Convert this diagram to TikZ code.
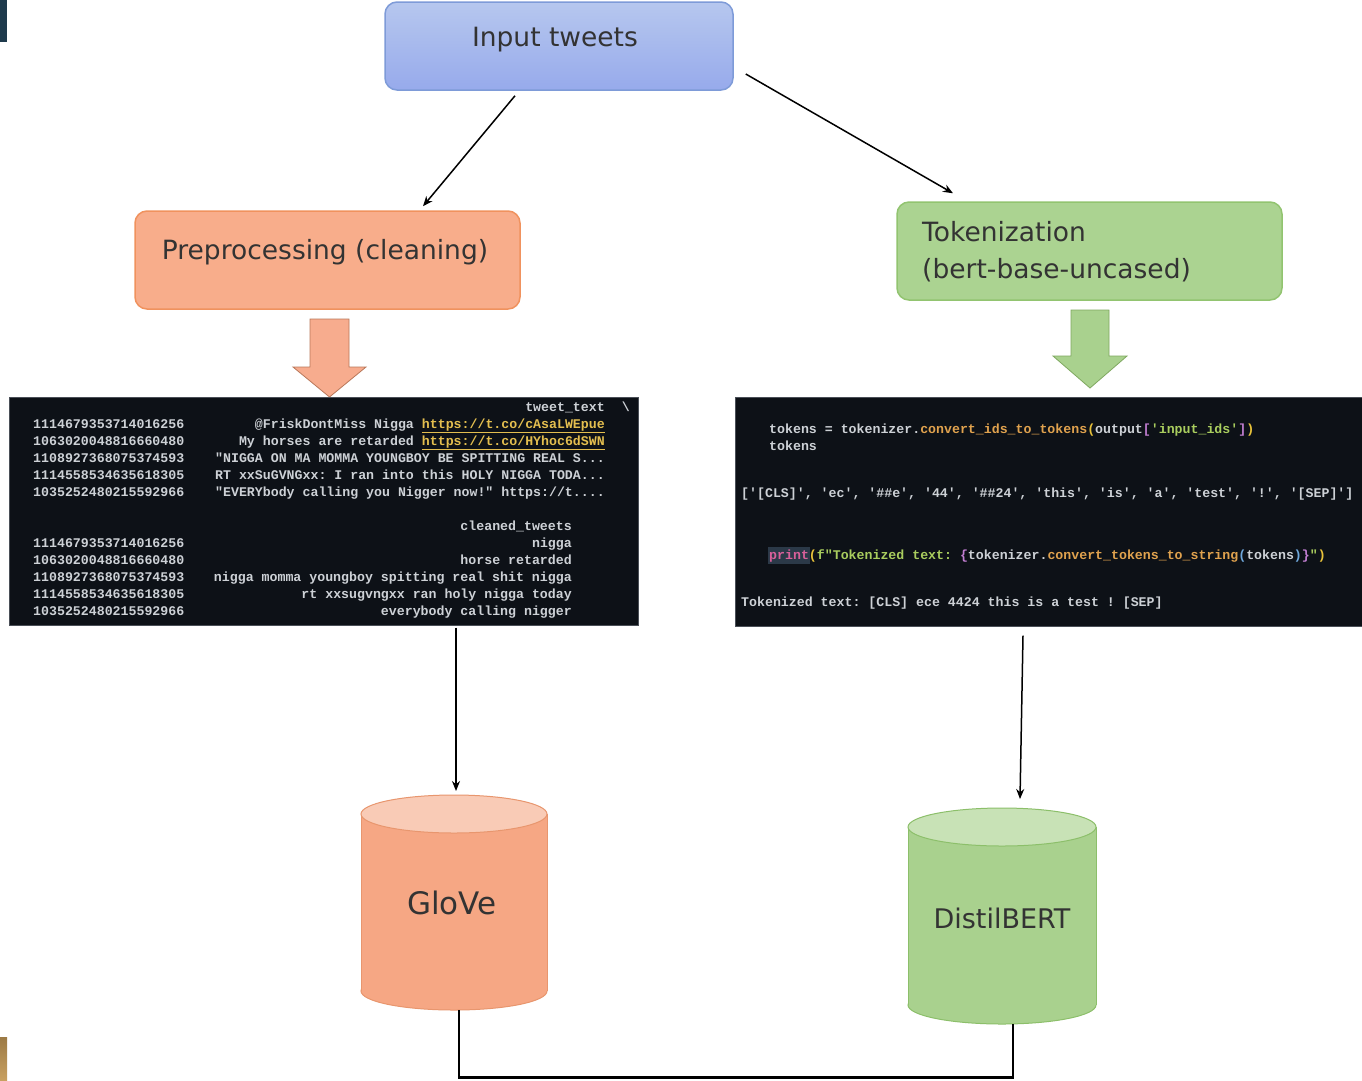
\documentclass[tikz,border=0pt]{standalone}
\usepackage{fontspec}
\setmainfont{DejaVu Sans}
\setmonofont{Liberation Mono}
\usetikzlibrary{arrows.meta,calc}
\definecolor{inputfill}{HTML}{A4B9EA}
\definecolor{inputdraw}{HTML}{7E9BD8}
\definecolor{prefill}{HTML}{F8AD8B}
\definecolor{predraw}{HTML}{F0925E}
\definecolor{tokfill}{HTML}{ABD391}
\definecolor{tokdraw}{HTML}{92C470}
\definecolor{panelbg}{HTML}{0D1117}
\definecolor{paneldraw}{HTML}{4A4F57}
\definecolor{txtc}{HTML}{333333}
\definecolor{codew}{HTML}{CDD1D6}
\definecolor{urlc}{HTML}{E3BE4F}
\definecolor{cor}{HTML}{E0A24E}
\definecolor{cyl}{HTML}{E8C23A}
\definecolor{cpu}{HTML}{C27ED2}
\definecolor{cgr}{HTML}{A9CD5E}
\definecolor{cpk}{HTML}{D8609A}
\definecolor{cbl}{HTML}{6FA8DC}
\definecolor{hlbox}{HTML}{2B3948}
\definecolor{orbody}{HTML}{F6A784}
\definecolor{ortop}{HTML}{F9CBB6}
\definecolor{ordraw}{HTML}{E8966E}
\definecolor{grbody}{HTML}{A9D18E}
\definecolor{grtop}{HTML}{C8E2B6}
\definecolor{grdraw}{HTML}{8CBF6A}
\definecolor{orarrfill}{HTML}{F7AC8E}
\definecolor{orarrdraw}{HTML}{B9785A}
\definecolor{grarrfill}{HTML}{A9D18E}
\definecolor{grarrdraw}{HTML}{7FA860}
\newcommand{\urlhl}[1]{\textcolor{urlc}{\underline{#1}}}
\begin{document}
\begin{tikzpicture}[x=1pt,y=-1pt,
  box/.style={rounded corners=12pt, line width=1.5pt, inner sep=0pt},
  lbl/.style={text=txtc, inner sep=0pt},
  code/.style={text=codew, inner sep=0pt, font=\ttfamily\bfseries\fontsize{13.25}{15}\selectfont},
  arr/.style={line width=1.5pt, -{Stealth[length=10pt,width=8pt]}},
  panel/.style={fill=panelbg, draw=paneldraw, line width=1pt}
]
\useasboundingbox (0,0) rectangle (1362,1080);
\fill[white] (0,0) rectangle (1362,1080);
% corner bars
\fill[fill={rgb,255:red,30;green,58;blue,76}] (0,0) rectangle (7,42);
\shade[top color={rgb,255:red,156;green,122;blue,69}, bottom color={rgb,255:red,200;green,160;blue,96}] (0,1037) rectangle (7,1080);

% boxes
\node[box, top color=inputfill!80!white, bottom color=inputfill!92!blue, draw=inputdraw, minimum width=348pt, minimum height=88pt] (input) at (559,46) {};
\node[lbl, font=\fontsize{26.5}{30}\selectfont] (inputtxt) at (555,40) {Input tweets};
\node[box, fill=prefill, draw=predraw, minimum width=385pt, minimum height=98pt] (pre) at (327.5,260) {};
\node[lbl, font=\fontsize{26.5}{30}\selectfont] (pretxt) at (325,252) {Preprocessing (cleaning)};
\node[box, fill=tokfill, draw=tokdraw, minimum width=385pt, minimum height=98pt] (tok) at (1089.5,251) {};
\node[lbl, font=\fontsize{26.5}{37}\selectfont, align=left, anchor=west] (toktxt) at (922,252) {Tokenization\\(bert-base-uncased)};

% connectors from input
\draw[arr] ($(input.south)+(-44,5)$) -- ($(pre.north)+(95.5,-4)$);
\draw[arr] ($(input.east)+(12,28)$) -- ($(tok.north)+(-136.5,-8)$);

% block arrows
\filldraw[fill=orarrfill, draw=orarrdraw, line width=0.8pt] (310,319) -- (349,319) -- (349,367) -- (366,367) -- (329.5,397) -- (293,367) -- (310,367) -- cycle;
\filldraw[fill=grarrfill, draw=grarrdraw, line width=0.8pt] (1071,310) -- (1109,310) -- (1109,356) -- (1127,356) -- (1090,388) -- (1053,356) -- (1071,356) -- cycle;

% left panel
\node[panel, minimum width=629pt, minimum height=228pt, inner sep=0pt] (lpanel) at (323.5,511) {};
\node[code, anchor=base east] (h1) at (605,411) {tweet\_text};
\node[code, anchor=base east] (h1b) at (630,411) {\textbackslash};
\node[code, anchor=base west] (i1) at (33,428) {1114679353714016256};
\node[code, anchor=base west] (i2) at (33,445) {1063020048816660480};
\node[code, anchor=base west] (i3) at (33,462) {1108927368075374593};
\node[code, anchor=base west] (i4) at (33,479) {1114558534635618305};
\node[code, anchor=base west] (i5) at (33,496) {1035252480215592966};
\node[code, anchor=base east] (t1) at (605,428) {@FriskDontMiss Nigga \urlhl{https://t.co/cAsaLWEpue}};
\node[code, anchor=base east] (t2) at (605,445) {My horses are retarded \urlhl{https://t.co/HYhoc6dSWN}};
\node[code, anchor=base east] (t3) at (605,462) {"NIGGA ON MA MOMMA YOUNGBOY BE SPITTING REAL S...};
\node[code, anchor=base east] (t4) at (605,479) {RT xxSuGVNGxx: I ran into this HOLY NIGGA TODA...};
\node[code, anchor=base east] (t5) at (605,496) {"EVERYbody calling you Nigger now!" https://t....};
\node[code, anchor=base east] (h2) at (572,530) {cleaned\_tweets};
\node[code, anchor=base west] (j1) at (33,547) {1114679353714016256};
\node[code, anchor=base west] (j2) at (33,564) {1063020048816660480};
\node[code, anchor=base west] (j3) at (33,581) {1108927368075374593};
\node[code, anchor=base west] (j4) at (33,598) {1114558534635618305};
\node[code, anchor=base west] (j5) at (33,615) {1035252480215592966};
\node[code, anchor=base east] (c1) at (572,547) {nigga};
\node[code, anchor=base east] (c2) at (572,564) {horse retarded};
\node[code, anchor=base east] (c3) at (572,581) {nigga momma youngboy spitting real shit nigga};
\node[code, anchor=base east] (c4) at (572,598) {rt xxsugvngxx ran holy nigga today};
\node[code, anchor=base east] (c5) at (572,615) {everybody calling nigger};

% right panel
\node[panel, minimum width=627pt, minimum height=229pt, inner sep=0pt] (rpanel) at (1048.5,511.5) {};
\begin{scope}
\clip (735,397) rectangle (1362,626);
\fill[hlbox] (768,547) rectangle (810,564);
\node[code, anchor=base west] (r1) at (769,433) {tokens = tokenizer.\textcolor{cor}{convert\_ids\_to\_tokens}\textcolor{cyl}{(}output\textcolor{cpu}{[}\textcolor{cgr}{'input\_ids'}\textcolor{cpu}{]}\textcolor{cyl}{)}};
\node[code, anchor=base west] (r2) at (769,450) {tokens};
\node[code, anchor=base west] (r3) at (741,497) {['[CLS]', 'ec', '\#\#e', '44', '\#\#24', 'this', 'is', 'a', 'test', '!', '[SEP]']};
\node[code, anchor=base west] (r4) at (769,559) {\textcolor{cpk}{print}\textcolor{cyl}{(}\textcolor{cgr}{f"Tokenized text: }\textcolor{cpu}{\{}tokenizer.\textcolor{cor}{convert\_tokens\_to\_string}\textcolor{cbl}{(}tokens\textcolor{cbl}{)}\textcolor{cpu}{\}}\textcolor{cgr}{"}\textcolor{cyl}{)}};
\node[code, anchor=base west] (r5) at (741,606) {Tokenized text: [CLS] ece 4424 this is a test ! [SEP]};
\end{scope}

% cylinders: GloVe
\filldraw[fill=orbody, draw=ordraw, line width=1pt] (454,991) ellipse [x radius=93, y radius=19];
\fill[orbody] (361,814) rectangle (547,991);
\draw[ordraw, line width=1pt] (361,814) -- (361,991) (547,814) -- (547,991);
\filldraw[fill=ortop, draw=ordraw, line width=1pt] (454,814) ellipse [x radius=93, y radius=19];
\node[lbl, font=\fontsize{31}{36}\selectfont] (glove) at (452,903) {GloVe};
\coordinate (glovetop) at (456,791);
\coordinate (glovebot) at (459,1010);
% DistilBERT
\filldraw[fill=grbody, draw=grdraw, line width=1pt] (1002,1005) ellipse [x radius=94, y radius=19];
\fill[grbody] (908,827) rectangle (1096,1005);
\draw[grdraw, line width=1pt] (908,827) -- (908,1005) (1096,827) -- (1096,1005);
\filldraw[fill=grtop, draw=grdraw, line width=1pt] (1002,827) ellipse [x radius=94, y radius=19];
\node[lbl, font=\fontsize{27}{30}\selectfont] (distil) at (1002,918) {DistilBERT};
\coordinate (distiltop) at (1020,799);
\coordinate (distilbot) at (1013,1024);

% vertical arrows
\draw[arr] ($(lpanel.south)+(132.5,2)$) -- (glovetop);
\draw[arr] ($(rpanel.south)+(-25.5,9)$) -- (distiltop);

% bottom connector
\coordinate (bl) at (459,1077.5);
\coordinate (br) at (1013,1077.5);
\draw[line width=2.2pt] (glovebot) -- (bl) -- (br) -- (distilbot);
\end{tikzpicture}
\end{document}
